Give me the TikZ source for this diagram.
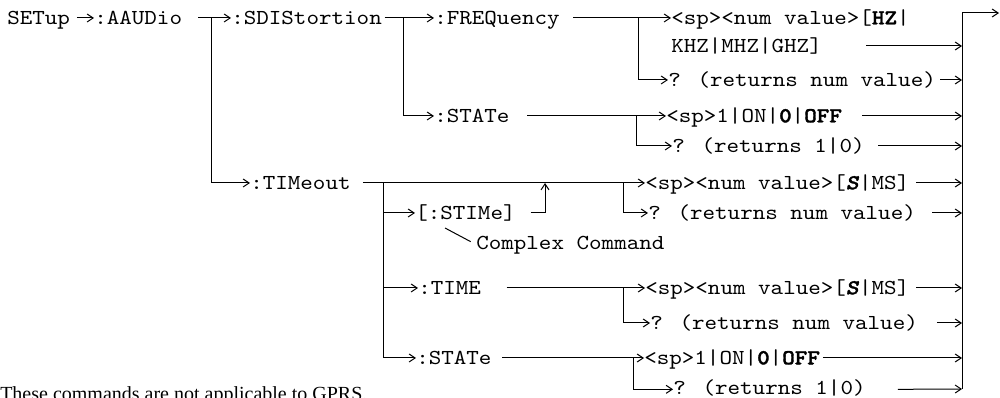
\documentclass[tikz,border=0pt]{standalone}
\usepackage{fontspec}
\usetikzlibrary{arrows.meta}
\newfontfamily\notefnt{Liberation Serif}
\newfontfamily\monofnt{lmmono10-regular.otf}[FakeStretch=1.12, BoldFont=lmmonolt10-bold.otf, BoldFeatures={FakeBold=1.6}, ItalicFont=lmmono10-italic.otf, BoldItalicFont=lmmonolt10-boldoblique.otf, BoldItalicFeatures={FakeBold=1.6}]
\newcommand\cmdfont{\monofnt\fontsize{16pt}{18pt}\selectfont}
\tikzset{
  cmd/.style={font=\cmdfont, inner sep=0pt, anchor=west, text height=9.5pt, text depth=0pt},
  lnk/.style={line width=0.75pt},
  arr/.style={lnk, -{Straight Barb[length=4.5pt,width=6pt]}},
}
\begin{document}
\begin{tikzpicture}[x=0.75pt,y=-0.75pt]
\useasboundingbox (0,0) rectangle (1000,398);
% nodes
\node[cmd] (setup)  at (7,18)   {SETup};
\node[cmd] (aaudio) at (94,18)  {:AAUDio};
\node[cmd] (sdis)   at (231,18) {:SDIStortion};
\node[cmd] (freq)   at (434,18) {:FREQuency};
\node[cmd] (fhz)    at (671,18) {<sp><num value>[\textbf{HZ}|};
\node[cmd] (fkhz)   at (671,46) {KHZ|MHZ|GHZ]};
\node[cmd] (fq)     at (668,80) {? (returns num value)};
\node[cmd] (sstate) at (434,116) {:STATe};
\node[cmd] (son)    at (666,116) {<sp>1|ON|\textbf{0}|\textbf{OFF}};
\node[cmd] (sq)     at (672,146) {? (returns 1|0)};
\node[cmd] (tim)    at (250,183) {:TIMeout};
\node[cmd] (tnum)   at (645,183) {<sp><num value>[\textbf{\textit{S}}|MS]};
\node[cmd] (stime)  at (415,213) {[:STIMe]};
\node[cmd] (tq)     at (648,213) {? (returns num value)};
\node[cmd] (cplx)   at (476,243) {Complex Command};
\node[cmd] (time)   at (418,288) {:TIME};
\node[cmd] (ttnum)  at (645,288) {<sp><num value>[\textbf{\textit{S}}|MS]};
\node[cmd] (ttq)    at (650,323) {? (returns num value)};
\node[cmd] (tstate) at (416,358) {:STATe};
\node[cmd] (ton)    at (644,358) {<sp>1|ON|\textbf{0}|\textbf{OFF}};
\node[cmd] (tsq)    at (673,388) {? (returns 1|0)};
\node[font=\notefnt\fontsize{15pt}{18pt}\selectfont, inner sep=0pt, anchor=base west] (note) at (0,401) {These commands are not applicable to GPRS.};
% junctions
\coordinate (j1) at (211,18);
\coordinate (j2) at (403,18);
\coordinate (j3) at (638,18);
\coordinate (j4) at (636,116);
\coordinate (j5) at (383,183);
\coordinate (j6) at (623,183);
\coordinate (j7) at (545,183);
\coordinate (j8) at (623,288);
\coordinate (j9) at (633,358);
\coordinate (cc) at (445,228);
\coordinate (bt) at (962,13);
\coordinate (bb) at (962,389);
\coordinate (out) at (999,13);
% connectors
\draw[arr] ([xshift=5]setup.east) -- (aaudio.west);
\draw[arr] ([xshift=12]aaudio.east) -- (sdis.west);
\draw[arr] (j1) |- (tim.west);
\draw[arr] ([xshift=2]sdis.east) -- (freq.west);
\draw[arr] (j2) |- (sstate.west);
\draw[arr] ([xshift=10]freq.east) -- (fhz.west);
\draw[arr] (j3) |- (fq.west);
\draw[arr] ([xshift=13]sstate.east) -- (son.west);
\draw[arr] (j4) |- (sq.west);
\draw[arr] ([xshift=9]tim.east) -- (tnum.west);
\draw[arr] (j5) |- (stime.west);
\draw[arr] (j5) |- (time.west);
\draw[arr] (j5) |- (tstate.west);
\draw[arr] (j6) |- (tq.west);
\draw[arr] ([xshift=11]stime.east) -| (j7);
\draw[lnk] (cc) -- ([xshift=-4pt,yshift=1pt]cplx.west);
\draw[arr] ([xshift=19]time.east) -- (ttnum.west);
\draw[arr] (j8) |- (ttq.west);
\draw[arr] ([xshift=8]tstate.east) -- (ton.west);
\draw[arr] (j9) |- ([yshift=-1]tsq.west);
% bus
\draw[lnk] (bb) -- (bt);
\draw[arr] (bt) -- (out);
\draw[arr] ([xshift=33]fkhz.east) -- (fkhz.east -| bt);
\draw[arr] ([xshift=3]fq.east) -- (fq.east -| bt);
\draw[arr] ([xshift=15]son.east) -- (son.east -| bt);
\draw[arr] ([xshift=10]sq.east) -- (sq.east -| bt);
\draw[arr] ([xshift=5]tnum.east) -- (tnum.east -| bt);
\draw[arr] ([xshift=12]tq.east) -- (tq.east -| bt);
\draw[arr] ([xshift=5]ttnum.east) -- (ttnum.east -| bt);
\draw[arr] ([xshift=14]ttq.east) -- (ttq.east -| bt);
\draw[arr] ([xshift=2]ton.east) -- (ton.east -| bt);
\draw[arr] ([xshift=24,yshift=-1]tsq.east) -- (bb);
\end{tikzpicture}
\end{document}
